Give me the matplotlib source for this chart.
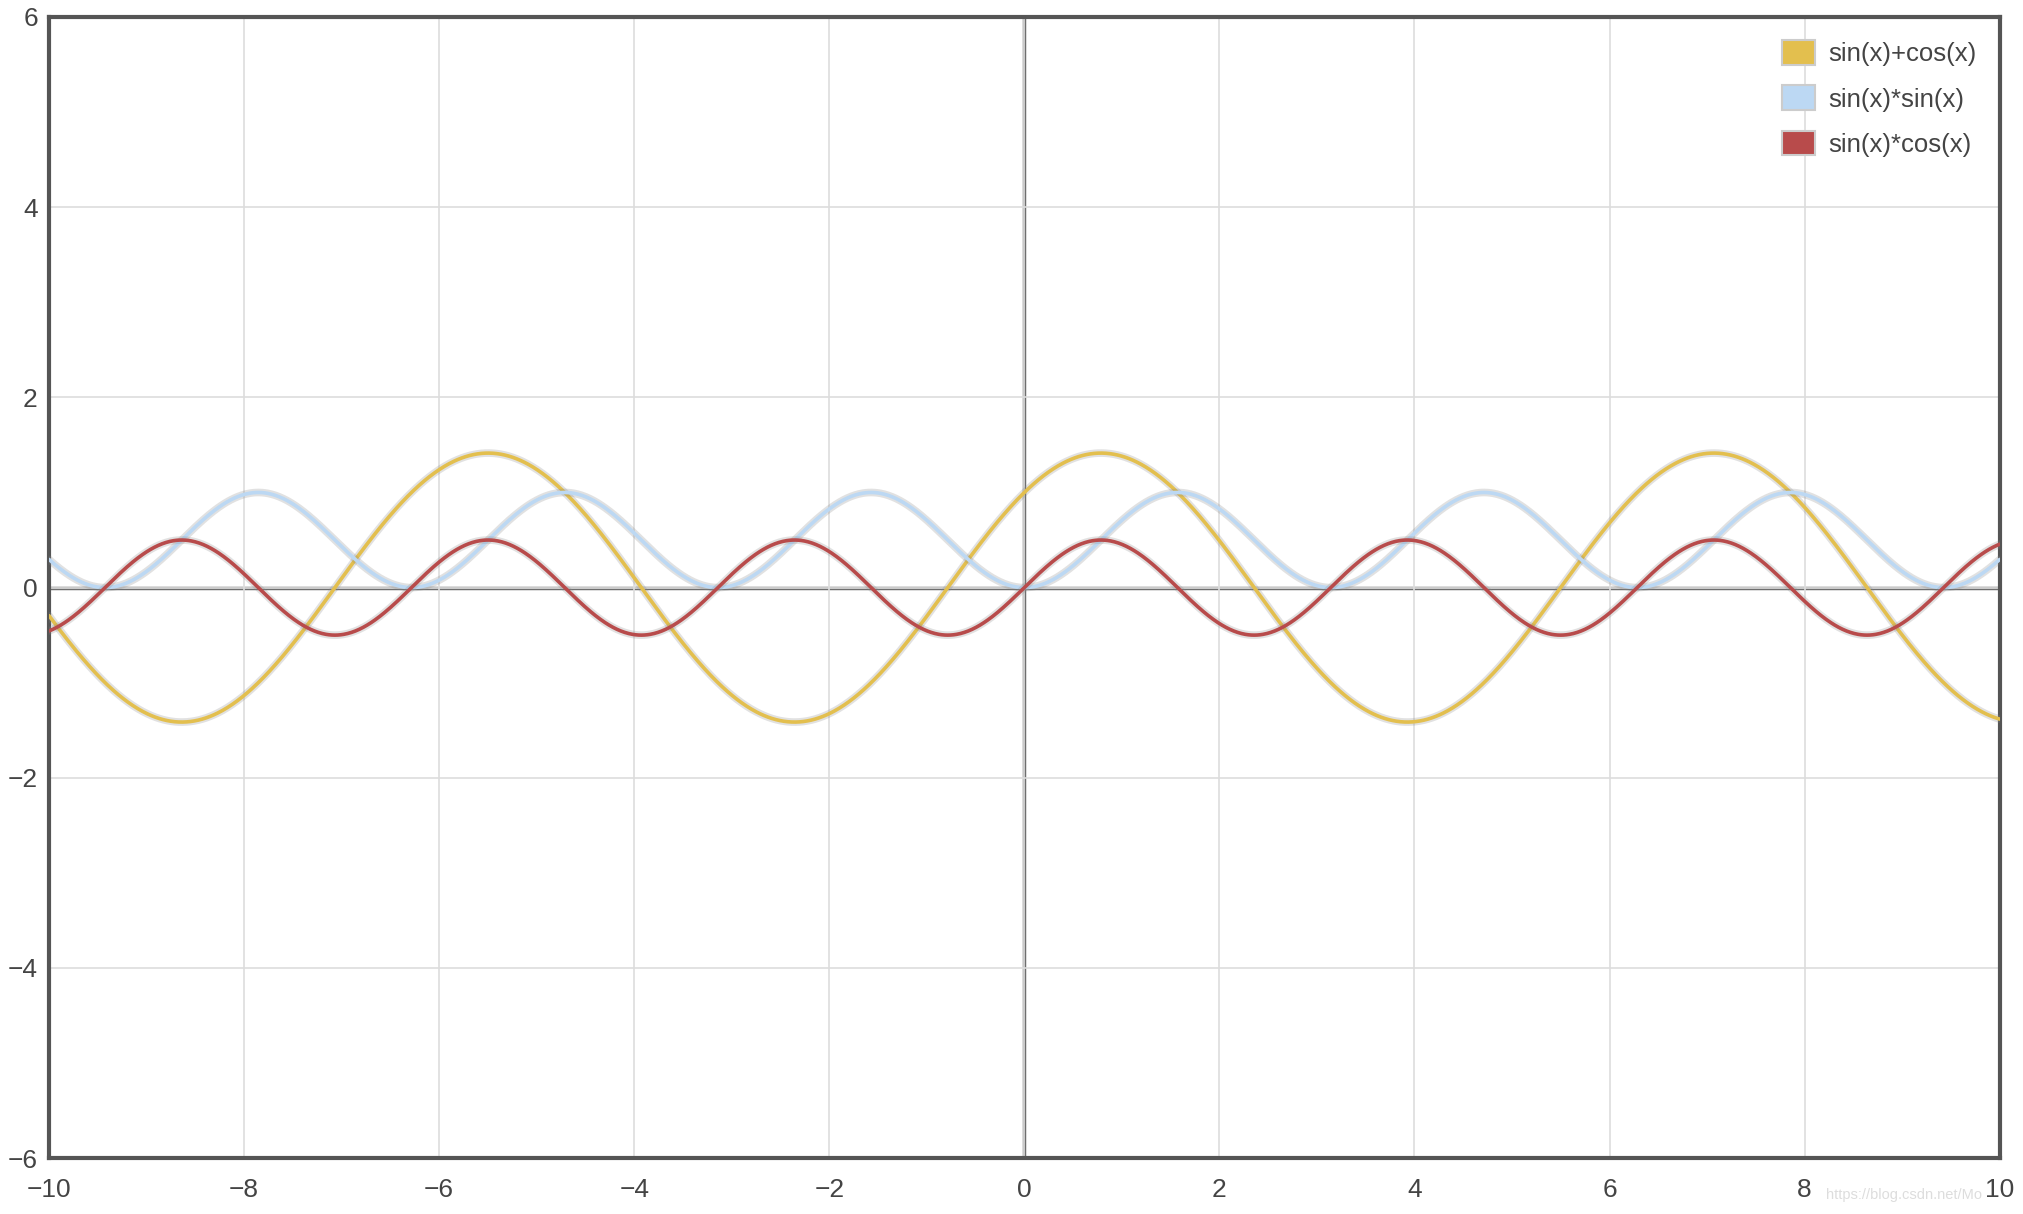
import numpy as np
import matplotlib
matplotlib.use("Agg")
import matplotlib.pyplot as plt
import matplotlib.patheffects as pe
from matplotlib.patches import Patch

# functions plotted (the legend names them), domain and colors
labels = ['sin(x)+cos(x)', 'sin(x)*sin(x)', 'sin(x)*cos(x)']
funcs = [lambda x: np.sin(x) + np.cos(x),
         lambda x: np.sin(x) * np.sin(x),
         lambda x: np.sin(x) * np.cos(x)]
colors = ['#e3bf4e', '#bcd8f3', '#b84b4b']
x_range = (-10, 10)
y_range = (-6, 6)
x_ticks = [-10, -8, -6, -4, -2, 0, 2, 4, 6, 8, 10]
y_ticks = [-6, -4, -2, 0, 2, 4, 6]

plt.rcParams['font.family'] = ['Liberation Sans', 'DejaVu Sans']
plt.rcParams['axes.unicode_minus'] = True

fig = plt.figure(figsize=(20.24, 12.14), dpi=100)
ax = fig.add_axes([0.0242, 0.046, 0.9638, 0.94])

x = np.linspace(x_range[0], x_range[1], 2000)

ax.grid(True, color='#dddddd', linewidth=1.2, zorder=0)
ax.axhline(0, color='#6e6e6e', linewidth=2.5, zorder=1)
ax.axvline(0, color='#6e6e6e', linewidth=2.5, zorder=1)

shadow = [pe.Stroke(linewidth=5.5, foreground='#888888', alpha=0.25), pe.Normal()]
for f, c, lab in zip(funcs, colors, labels):
    ax.plot(x, f(x), color=c, linewidth=2.6, zorder=3, path_effects=shadow,
            solid_capstyle='round')

ax.set_xlim(*x_range)
ax.set_ylim(*y_range)
ax.set_xticks(x_ticks)
ax.set_yticks(y_ticks)
ax.tick_params(length=0, labelsize=19, labelcolor='#444444')
ax.tick_params(axis='x', pad=14)
ax.tick_params(axis='y', pad=8)
for s in ax.spines.values():
    s.set_color('#555555')
    s.set_linewidth(3)

handles = [Patch(facecolor=c, edgecolor='#cccccc', linewidth=1.5) for c in colors]
ax.legend(handles, labels, loc='upper right', frameon=False, fontsize=18.5,
          labelcolor='#444444', handlelength=1.3, handleheight=1.1,
          handletextpad=0.5, labelspacing=0.75, borderaxespad=0.5)

# watermark between the last two x tick labels
fig.text(0.902, 0.016, 'https://blog.csdn.net/Mo', fontsize=10.5, color='#dddddd',
         ha='left', va='center')

fig.savefig('out.png', dpi=100, facecolor='white')
